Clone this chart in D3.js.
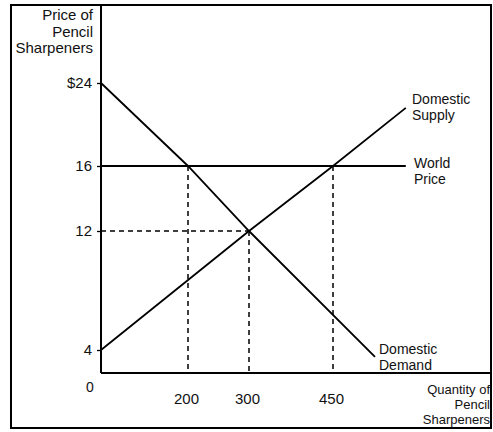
<!DOCTYPE html>
<html>
<head>
<meta charset="utf-8">
<script src="https://cdn.jsdelivr.net/npm/d3@7"></script>
<style>
  body { margin: 0; background: #fff; }
  text { font-family: "Liberation Sans", Arial, sans-serif; fill: #111; }
</style>
</head>
<body>
<script>
// chart values
var priceTicks = [4, 12, 16, 24];
var priceTickLabels = ["4", "12", "16", "$24"];
var qtyTicks = [200, 300, 450];
var supplyQty = [0, 300, 450, 580];
var supplyPrice = [4, 12, 16, 21.6];
var demandQty = [0, 200, 300, 525];
var demandPrice = [24, 16, 12, 2.8];
var worldPrice = 16;
var worldQty = [0, 580];
var guideQty = [200, 300, 450];
var guidePrice = [16, 12, 16];

var W = 493, H = 432;
var svg = d3.select("body").append("svg").attr("width", W).attr("height", H);

// schematic (not to scale) axes, so the scales are piecewise
var x = d3.scaleLinear().domain([0, 200, 300, 450, 600]).range([101, 188, 249, 333, 417]);
var y = d3.scaleLinear().domain([0, 4, 12, 16, 24]).range([373, 350, 231, 166, 83]);

// frame
svg.append("rect").attr("x", 11).attr("y", 5).attr("width", 480).attr("height", 423)
  .attr("fill", "none").attr("stroke", "#000").attr("stroke-width", 2);

var line = d3.line().x(function(d) { return x(d[0]); }).y(function(d) { return y(d[1]); });

// dashed guides
svg.append("path").attr("d", line([[0, 12], [300, 12]]))
  .attr("stroke", "#000").attr("stroke-width", 1.5).attr("stroke-dasharray", "5,4").attr("fill", "none");
guideQty.forEach(function(q, i) {
  svg.append("path").attr("d", line([[q, guidePrice[i]], [q, 0]]))
    .attr("stroke", "#000").attr("stroke-width", 1.5).attr("stroke-dasharray", "5,4").attr("fill", "none");
});

// curves
svg.append("path").attr("d", line(worldQty.map(function(q) { return [q, worldPrice]; })))
  .attr("stroke", "#000").attr("stroke-width", 1.8).attr("fill", "none");
svg.append("path").attr("d", line(supplyQty.map(function(q, i) { return [q, supplyPrice[i]]; })))
  .attr("stroke", "#000").attr("stroke-width", 1.8).attr("fill", "none");
svg.append("path").attr("d", line(demandQty.map(function(q, i) { return [q, demandPrice[i]]; })))
  .attr("stroke", "#000").attr("stroke-width", 1.8).attr("fill", "none");

// axes
svg.append("line").attr("x1", x(0)).attr("x2", x(0)).attr("y1", 5).attr("y2", y(0))
  .attr("stroke", "#000").attr("stroke-width", 2);
svg.append("line").attr("x1", x(0)).attr("x2", 491).attr("y1", y(0)).attr("y2", y(0))
  .attr("stroke", "#000").attr("stroke-width", 2.2);

var yAxis = svg.append("g").attr("transform", "translate(" + x(0) + ",0)")
  .call(d3.axisLeft(y).tickValues(priceTicks).tickSize(4).tickSizeOuter(0)
    .tickFormat(function(d, i) { return priceTickLabels[i]; }));
yAxis.select(".domain").remove();
yAxis.selectAll("line").attr("stroke-width", 1.3);
yAxis.selectAll("text").attr("x", -9).style("font-size", "15px").style("font-family", "Liberation Sans, Arial, sans-serif");

var xAxis = svg.append("g").attr("transform", "translate(0," + y(0) + ")")
  .call(d3.axisBottom(x).tickValues(qtyTicks).tickSize(0).tickFormat(d3.format("d")));
xAxis.select(".domain").remove();
xAxis.selectAll("text").attr("y", 20).attr("dx", "-2").style("font-size", "15px").style("font-family", "Liberation Sans, Arial, sans-serif");

svg.append("text").attr("x", x(0) - 11).attr("y", y(0) + 19).attr("text-anchor", "middle")
  .style("font-size", "14px").text("0");

// labels
function label(lines, xp, yp, anchor, gap, size) {
  var t = svg.append("text").attr("x", xp).attr("y", yp).attr("text-anchor", anchor).style("font-size", size + "px");
  lines.forEach(function(s, i) {
    t.append("tspan").attr("x", xp).attr("dy", i ? gap : 0).text(s);
  });
}
label(["Price of", "Pencil", "Sharpeners"], 93, 20, "end", 16.5, 15);
label(["Quantity of", "Pencil", "Sharpeners"], 490, 394, "end", 15, 13);
label(["Domestic", "Supply"], 412, 104, "start", 15.5, 14);
label(["World", "Price"], 414, 168, "start", 15.5, 14);
label(["Domestic", "Demand"], 379, 354, "start", 15.5, 14);
</script>
</body>
</html>
